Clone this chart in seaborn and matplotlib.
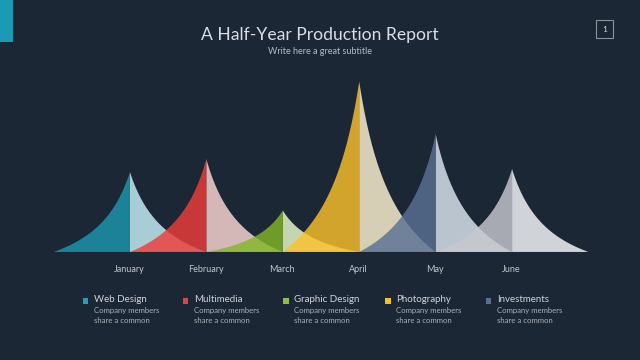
import numpy as np
import matplotlib
matplotlib.use("Agg")
import matplotlib.pyplot as plt
import seaborn as sns
from matplotlib.patches import Rectangle

months = ["January", "February", "March", "April", "May", "June"]
values = [80, 93, 41.5, 170.5, 118, 83]
dark_cols = ["#1b97af", "#ef3c39", "#82b727", "#fbc12a", "#5a7193", "#c8c8d0"]
light_cols = ["#a8cdd5", "#d4b8b8", "#c5d5b0", "#d6cfb5", "#b9c4ce", "#d0d3d8"]

legend_names = ["Web Design", "Multimedia", "Graphic Design", "Photography", "Investments"]
legend_cols = ["#1aa0c0", "#e8403a", "#8dc040", "#f5c02a", "#5a7090"]
legend_desc = "Company members\nshare a common"

BG = "#1c2735"
W, H = 640, 360

sns.set_theme(style="dark", rc={"figure.facecolor": BG, "axes.facecolor": BG})
plt.rcParams["font.family"] = ["Lato", "DejaVu Sans"]

fig = plt.figure(figsize=(6.4, 3.6), dpi=100)
fig.patch.set_facecolor(BG)

# axes: x from -1 (px 53) to 6 (px 588), baseline at px 251.5
base = 251.5
ax = fig.add_axes([53 / W, (H - base) / H, 535 / W, 180 / H])
ax.set_facecolor(BG)
ax.set_xlim(-1, 6)
ax.set_ylim(0, 180)
ax.axis("off")


def spike(t, c=0.66):
    # concave flank: 0 at the foot, 1 at the peak
    return t * (1 - c) / (1 - c * t)


t = np.linspace(0, 1, 300)
for i, (v, dc, lc) in enumerate(zip(values, dark_cols, light_cols)):
    # left half (semi transparent, sits over previous right half)
    ax.fill_between(i - 1 + t, 0, v * spike(t), color=dc, alpha=0.82, lw=0, zorder=2 + i)
    # right half
    ax.fill_between(i + t, 0, v * spike(1 - t), color=lc, lw=0, zorder=1 + i)

ax.axhline(0, color="#2c3846", lw=0.8, zorder=20)

for i, m in enumerate(months):
    ax.text(i, -17.5, m, ha="center", va="center", fontsize=6.5, color="#c0c6cc",
            clip_on=False)


def fx(px):
    return px / W


def fy(py):
    return 1 - py / H


# top-left accent and page number box
fig.add_artist(Rectangle((0, fy(42)), fx(13), 42 / H, transform=fig.transFigure,
                         color="#1a9ab5", lw=0))
fig.add_artist(Rectangle((fx(596), fy(38)), 17 / W, 18 / H, transform=fig.transFigure,
                         facecolor="none", edgecolor="#8a929c", lw=0.8))
fig.text(fx(604.5), fy(29), "1", ha="center", va="center", fontsize=6, color="#d0d4d8")

fig.text(0.5, fy(35), "A Half-Year Production Report", ha="center", va="center",
         fontsize=12.6, color="#d8dde3")
fig.text(0.5, fy(51), "Write here a great subtitle", ha="center", va="center",
         fontsize=6.5, color="#b4bcc4")

legend_x = [82.7, 182.7, 283.3, 385, 485.7]
for x, name, col in zip(legend_x, legend_names, legend_cols):
    fig.add_artist(Rectangle((fx(x), fy(303.5)), 5.5 / W, 5.5 / H, transform=fig.transFigure,
                             color=col, lw=0))
    fig.text(fx(x + 11), fy(299), name, ha="left", va="center", fontsize=7, color="#d0d4d8")
    fig.text(fx(x + 11), fy(315.5), legend_desc, ha="left", va="center", fontsize=5.6,
             color="#aab2ba", linespacing=1.35)

fig.savefig("out.png", dpi=100, facecolor=BG)
